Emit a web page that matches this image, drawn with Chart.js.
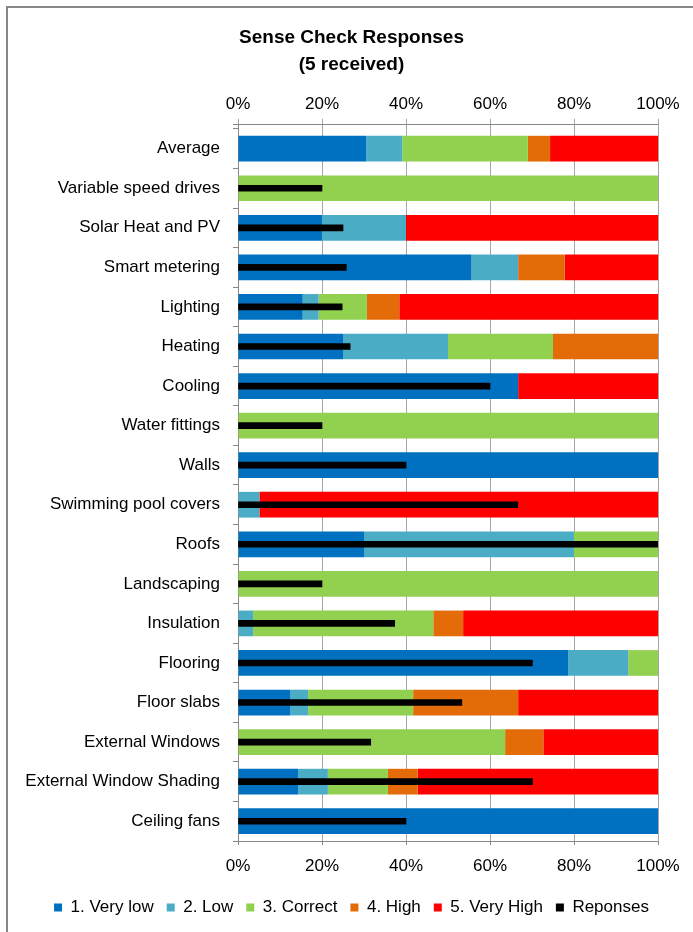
<!DOCTYPE html>
<html>
<head>
<meta charset="utf-8">
<script src="https://cdn.jsdelivr.net/npm/chart.js@4"></script>
<style>
  html, body { margin: 0; padding: 0; background: #fff; overflow: hidden; }
  #wrap { position: relative; width: 693px; height: 932px; }
  #frame { position: absolute; left: 6px; top: 6px; width: 900px; height: 1000px; border: 2px solid #878787; box-sizing: border-box; }
  canvas { position: absolute; left: 0; top: 0; }
</style>
</head>
<body>
<div id="wrap">
  <div id="frame"></div>
  <canvas id="chart" width="693" height="932"></canvas>
</div>
<script>
// categories, top to bottom
const categories = ['Average', 'Variable speed drives', 'Solar Heat and PV', 'Smart metering', 'Lighting',
  'Heating', 'Cooling', 'Water fittings', 'Walls', 'Swimming pool covers', 'Roofs', 'Landscaping',
  'Insulation', 'Flooring', 'Floor slabs', 'External Windows', 'External Window Shading', 'Ceiling fans'];

// share of answers per rating (%)
const veryLow  = [30.5, 0, 20, 55.6, 15.4, 25, 66.7, 0, 100, 0, 30, 0, 0, 78.6, 12.5, 0, 14.3, 100];
const low      = [8.6, 0, 20, 11.1, 3.8, 25, 0, 0, 0, 5.1, 50, 0, 3.6, 14.3, 4.2, 0, 7.1, 0];
const correct  = [29.9, 100, 0, 0, 11.5, 25, 0, 100, 0, 0, 20, 100, 42.9, 7.1, 25, 63.6, 14.3, 0];
const high     = [5.3, 0, 0, 11.1, 7.7, 25, 0, 0, 0, 0, 0, 0, 7.1, 0, 25, 9.1, 7.1, 0];
const veryHigh = [25.7, 0, 60, 22.2, 61.6, 0, 33.3, 0, 0, 94.9, 0, 0, 46.4, 0, 33.3, 27.3, 57.2, 0];
const responses = [null, 20, 25, 25.8, 24.8, 26.7, 60, 20, 40, 66.6, 100, 20, 37.3, 70.1, 53.3, 31.6, 70.1, 40];

const xTicks = [0, 20, 40, 60, 80, 100];

const font = 'Liberation Sans';
const gridGrey = '#a6a6a6';
const axisGrey = '#878787';

const ratingSet = (label, data, color) => ({
  label: label, data: data, backgroundColor: color, borderWidth: 0, grouped: false,
  barPercentage: 0.65, categoryPercentage: 1, yAxisID: 'y', xAxisID: 'x'
});

// Excel leaves a small gap between the top axis line and the first bar slot
const topAxisLine = {
  id: 'topAxisLine',
  beforeDatasetsDraw(chart) {
    const { ctx, chartArea } = chart;
    const y = Math.round(chartArea.top - 5) + 0.5;
    ctx.save();
    ctx.strokeStyle = axisGrey;
    ctx.lineWidth = 1;
    ctx.beginPath();
    ctx.moveTo(chartArea.left - 5, y);
    ctx.lineTo(chartArea.right, y);
    ctx.moveTo(chartArea.left + 0.5, y);
    ctx.lineTo(chartArea.left + 0.5, chartArea.top);
    ctx.stroke();
    ctx.restore();
  }
};

new Chart(document.getElementById('chart').getContext('2d'), {
  type: 'bar',
  data: {
    labels: categories,
    datasets: [
      ratingSet('1. Very low', veryLow, '#0070C0'),
      ratingSet('2. Low', low, '#4BACC6'),
      ratingSet('3. Correct', correct, '#92D050'),
      ratingSet('4. High', high, '#E36C09'),
      ratingSet('5. Very High', veryHigh, '#FF0000'),
      {
        label: 'Reponses', data: responses, backgroundColor: '#000000', borderWidth: 0, grouped: false,
        barThickness: 6, yAxisID: 'y2', xAxisID: 'x', order: -1
      }
    ]
  },
  options: {
    indexAxis: 'y',
    responsive: false,
    animation: false,
    layout: { padding: { left: 10, right: 0, top: 24, bottom: 6 } },
    scales: {
      x: {
        position: 'bottom', stacked: true, min: 0, max: 100,
        afterBuildTicks: (s) => { s.ticks = xTicks.map(v => ({ value: v })); },
        afterFit: (s) => { s.height = 45; s.paddingRight = 35; },
        ticks: { color: '#000', font: { family: font, size: 17 }, padding: 11, callback: v => v + '%' },
        grid: { color: gridGrey, tickLength: 4, tickColor: axisGrey },
        border: { color: axisGrey }
      },
      x2: {
        position: 'top', min: 0, max: 100,
        afterBuildTicks: (s) => { s.ticks = xTicks.map(v => ({ value: v })); },
        afterFit: (s) => { s.paddingRight = 35; },
        ticks: { color: '#000', font: { family: font, size: 17 }, padding: 4, callback: v => v + '%' },
        grid: { drawOnChartArea: false, tickLength: 10, color: gridGrey },
        border: { display: false }
      },
      y: {
        stacked: true,
        afterFit: (s) => { s.width = 228; },
        ticks: { color: '#000', font: { family: font, size: 17 }, padding: 13 },
        grid: { drawOnChartArea: false, tickLength: 5, color: axisGrey },
        border: { color: axisGrey }
      },
      y2: {
        display: false, stacked: false
      }
    },
    plugins: {
      title: {
        display: true,
        text: ['Sense Check Responses', '(5 received)'],
        color: '#000',
        font: { family: font, size: 19, weight: 'bold', lineHeight: '27.5px' },
        padding: { top: 0, bottom: 11.5 }
      },
      legend: {
        position: 'bottom',
        labels: {
          color: '#000',
          font: { family: font, size: 17 },
          boxWidth: 8, boxHeight: 8, padding: 13,
          sort: (a, b) => a.datasetIndex - b.datasetIndex
        }
      },
      tooltip: { enabled: false }
    }
  },
  plugins: [topAxisLine]
});
</script>
</body>
</html>
